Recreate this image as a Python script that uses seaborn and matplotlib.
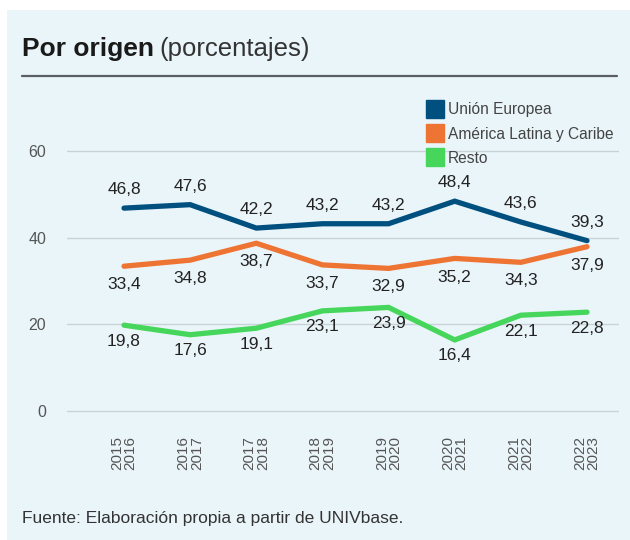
import matplotlib
matplotlib.use("Agg")
import matplotlib.pyplot as plt
import seaborn as sns
import pandas as pd
from matplotlib.patches import Rectangle
from matplotlib.lines import Line2D

periods = ["2015\n2016", "2016\n2017", "2017\n2018", "2018\n2019",
           "2019\n2020", "2020\n2021", "2021\n2022", "2022\n2023"]
union_europea = [46.8, 47.6, 42.2, 43.2, 43.2, 48.4, 43.6, 39.3]
america_latina = [33.4, 34.8, 38.7, 33.7, 32.9, 35.2, 34.3, 37.9]
resto = [19.8, 17.6, 19.1, 23.1, 23.9, 16.4, 22.1, 22.8]
series_names = ["Unión Europea", "América Latina y Caribe", "Resto"]
colors = ["#00507F", "#EE7434", "#46D65B"]
y_ticks = [0, 20, 40, 60]

rows = []
for name, vals in zip(series_names, [union_europea, america_latina, resto]):
    for i, v in enumerate(vals):
        rows.append({"idx": i, "valor": v, "serie": name})
df = pd.DataFrame(rows)

sns.set_theme(style="white")
plt.rcParams["font.family"] = ["Liberation Sans", "DejaVu Sans"]

fig = plt.figure(figsize=(6.3, 5.4), dpi=100)
fig.patch.set_facecolor("white")
fig.patches.append(Rectangle((7/630, 0), 1 - 7/630, 1 - 10/540, transform=fig.transFigure,
                             facecolor="#EAF5FA", edgecolor="none", zorder=-10))

ax = fig.add_axes([67/630, 0.2228, (619-67)/630, 0.8169 - 0.2228])
ax.set_facecolor("none")
sns.lineplot(data=df, x="idx", y="valor", hue="serie", hue_order=series_names,
             palette=colors, linewidth=3.8, ax=ax, legend=False, zorder=3)
for l in ax.lines:
    l.set_solid_capstyle("round")
    l.set_solid_joinstyle("miter")

ax.set_xlim(-0.862, 7.484)
ax.set_ylim(-2, 72)
ax.set_yticks(y_ticks)
ax.set_yticklabels([str(t) for t in y_ticks], fontsize=11.5, color="#555555")
ax.set_xticks(range(len(periods)))
ax.set_xticklabels(periods, rotation=90, fontsize=11, color="#555555",
                   va="top", ha="center", linespacing=0.95)
ax.tick_params(axis="y", length=0, pad=15)
ax.tick_params(axis="x", length=0, pad=12)
for s in ax.spines.values():
    s.set_visible(False)
ax.grid(axis="y", color="#C9D2D7", linewidth=1)
ax.set_axisbelow(True)
ax.set_xlabel("")
ax.set_ylabel("")

def fmt(v):
    return f"{v:.1f}".replace(".", ",")

lab_kw = dict(ha="center", fontsize=12.5, color="#222222")
for i, v in enumerate(union_europea):
    ax.annotate(fmt(v), (i, v), xytext=(0, 8), textcoords="offset points",
                va="bottom", **lab_kw)
for i, v in enumerate(america_latina):
    ax.annotate(fmt(v), (i, v), xytext=(0, -8), textcoords="offset points",
                va="top", **lab_kw)
for i, v in enumerate(resto):
    ax.annotate(fmt(v), (i, v), xytext=(0, -6), textcoords="offset points",
                va="top", **lab_kw)

handles = [Line2D([0], [0], marker="s", linestyle="none", markersize=12.5,
                  markerfacecolor=c, markeredgecolor=c) for c in colors]
leg = fig.legend(handles, series_names, loc="upper left",
                 bbox_to_anchor=(421/630, 1 - 96/540), frameon=False,
                 fontsize=11.2, handletextpad=0.35, labelspacing=0.6,
                 handlelength=1.0, borderaxespad=0)
for t in leg.get_texts():
    t.set_color("#444444")

t1 = fig.text(22/630, 1 - 56/540, "Por origen", fontsize=19, fontweight="bold",
              color="#1a1a1a", ha="left", va="baseline")
fig.canvas.draw()
bb = t1.get_window_extent()
fig.text(bb.x1 / fig.bbox.width + 5/630, 1 - 56/540, "(porcentajes)", fontsize=18.5,
         color="#333333", ha="left", va="baseline")
fig.add_artist(Line2D([22/630, 617/630], [1 - 76/540, 1 - 76/540],
                      transform=fig.transFigure, color="#5a5f63", linewidth=1.6))

fig.text(22/630, 1 - 518/540, "Fuente: Elaboración propia a partir de UNIVbase.",
         fontsize=12.5, color="#333333", ha="left", va="center")

fig.savefig("out.png", dpi=100, facecolor=fig.get_facecolor())
